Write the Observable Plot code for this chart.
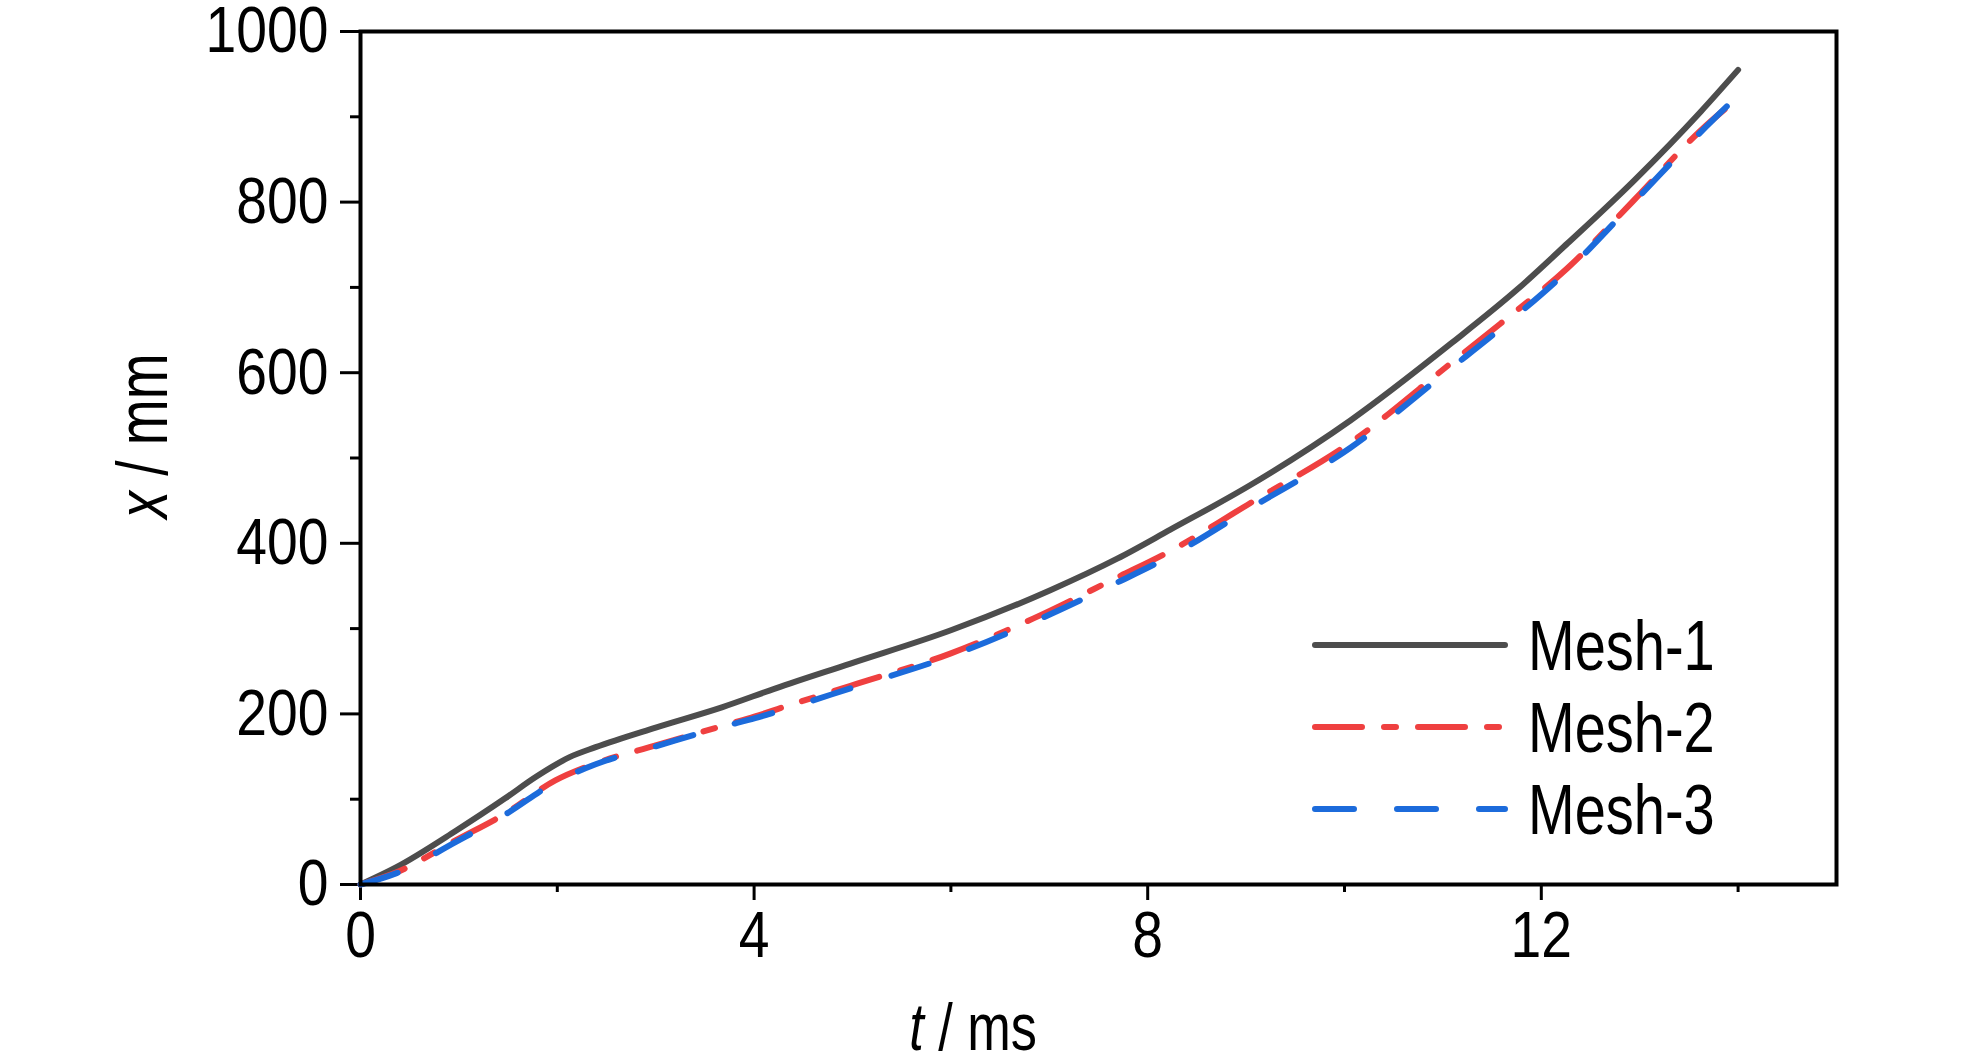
<!DOCTYPE html>
<html><head><meta charset="utf-8">
<script src="https://cdn.jsdelivr.net/npm/d3@7"></script>
<script src="https://cdn.jsdelivr.net/npm/@observablehq/plot@0.6"></script>
<style>html,body{margin:0;padding:0;background:#fff}</style>
</head><body><div id="chart"></div>
<script>
// ---- data ----
const tMesh1 = [0, 0.36, 0.97, 1.47, 1.78, 2.12, 2.39, 3.0, 3.68, 4.22, 4.98, 6.0, 7.01, 7.69, 8.23, 9.04, 10.06, 11.08, 11.76, 12.27, 12.94, 13.62, 14.0];
const xMesh1 = [0, 20, 63, 101, 126, 149, 161, 184, 208, 230, 259, 298, 345, 382, 416, 468, 544, 634, 698, 752, 825, 906, 955];
const tMesh2 = [0, 0.36, 0.97, 1.47, 1.98, 2.39, 3.0, 3.68, 4.01, 4.3, 4.98, 6.0, 6.84, 7.69, 8.23, 9.04, 10.06, 11.08, 11.59, 12.27, 12.94, 13.62, 14.0];
const xMesh2 = [0, 14, 52, 83, 122, 142, 163, 186, 197, 208, 233, 271, 312, 360, 391, 447, 518, 611, 658, 723, 802, 884, 922];
const tMesh3 = [0, 0.36, 0.97, 1.47, 1.98, 2.39, 3.0, 3.68, 4.01, 4.3, 4.98, 6.0, 6.84, 7.69, 8.23, 9.04, 10.06, 11.08, 11.59, 12.27, 12.94, 13.62, 14.0];
const xMesh3 = [0, 13, 50, 82, 120, 141, 162, 185, 195, 205, 230, 268, 308, 354, 385, 441, 512, 605, 652, 720, 800, 882, 925];

const seriesNames = ["Mesh-1", "Mesh-2", "Mesh-3"];
const seriesColors = ["#4d4d4d", "#ef4040", "#1c6bdb"];
const seriesDash = [null, "47,22,12,22", "39,43"];

const xTicks = [0, 4, 8, 12];
const xMinorTicks = [2, 6, 10, 14];
const yTicks = [0, 200, 400, 600, 800, 1000];
const yMinorTicks = [100, 300, 500, 700, 900];

const rows = (ts, xs) => ts.map((t, i) => ({t, x: xs[i]}));
const seriesData = [rows(tMesh1, xMesh1), rows(tMesh2, xMesh2), rows(tMesh3, xMesh3)];

const FONT = "'Liberation Sans', Arial, Helvetica, sans-serif";

const lineMarks = seriesData.map((d, i) => Plot.line(d, {
  x: "t", y: "x", stroke: seriesColors[i], strokeWidth: 6,
  strokeDasharray: seriesDash[i] || undefined, strokeLinecap: "round",
  curve: "monotone-x"
}));

const plot = Plot.plot({
  width: 1984, height: 1063,
  marginLeft: 360, marginRight: 148, marginTop: 31, marginBottom: 179,
  x: {domain: [0, 15]},
  y: {domain: [0, 1000]},
  style: {fontFamily: FONT, background: "#fff", color: "#000", overflow: "visible"},
  marks: [
    Plot.axisX({ticks: xTicks, tickSize: 16, tickPadding: 10, fontSize: 65, strokeWidth: 3, stroke: "#000", fill: "#000", tickFormat: d3.format("d"), label: null}),
    Plot.axisX({ticks: xMinorTicks, tickSize: 8, tickFormat: () => "", strokeWidth: 3, stroke: "#000", label: null}),
    Plot.axisY({ticks: yTicks, tickSize: 20, tickPadding: 12, fontSize: 65, strokeWidth: 3, stroke: "#000", fill: "#000", tickFormat: d3.format("d"), label: null}),
    Plot.axisY({ticks: yMinorTicks, tickSize: 10, tickFormat: () => "", strokeWidth: 3, stroke: "#000", label: null}),
    ...lineMarks,
    Plot.frame({stroke: "#000", strokeWidth: 4})
  ]
});

const svg = d3.select(plot);
// condensed look of the reference lettering
svg.selectAll("text").each(function() {
  const tr = this.getAttribute("transform") || "";
  this.setAttribute("transform", (tr + " scale(0.85,1)").trim());
});

// axis titles
const xl = svg.append("text")
  .attr("transform", "translate(973,1050) scale(0.78,1)")
  .attr("text-anchor", "middle")
  .attr("font-family", FONT).attr("font-size", 67).attr("fill", "#000");
xl.append("tspan").attr("font-style", "italic").text("t");
xl.append("tspan").text(" / ms");

const yl = svg.append("text")
  .attr("transform", "translate(167,436) rotate(-90) scale(1,1.3)")
  .attr("text-anchor", "middle")
  .attr("font-family", FONT).attr("font-size", 55).attr("fill", "#000");
yl.append("tspan").attr("font-style", "italic").text("x");
yl.append("tspan").text(" / mm");

// legend
const legY = [645, 727, 809];
seriesNames.forEach((name, i) => {
  const ln = svg.append("line")
    .attr("x1", 1315).attr("x2", 1505).attr("y1", legY[i]).attr("y2", legY[i])
    .attr("stroke", seriesColors[i]).attr("stroke-width", 6).attr("stroke-linecap", "round");
  if (seriesDash[i]) ln.attr("stroke-dasharray", seriesDash[i]);
  svg.append("text")
    .attr("transform", `translate(1528,${legY[i] + 25}) scale(0.8,1)`)
    .attr("text-anchor", "start")
    .attr("font-family", FONT).attr("font-size", 70).attr("fill", "#000")
    .text(name);
});

document.getElementById("chart").appendChild(plot);
</script>
</body></html>
